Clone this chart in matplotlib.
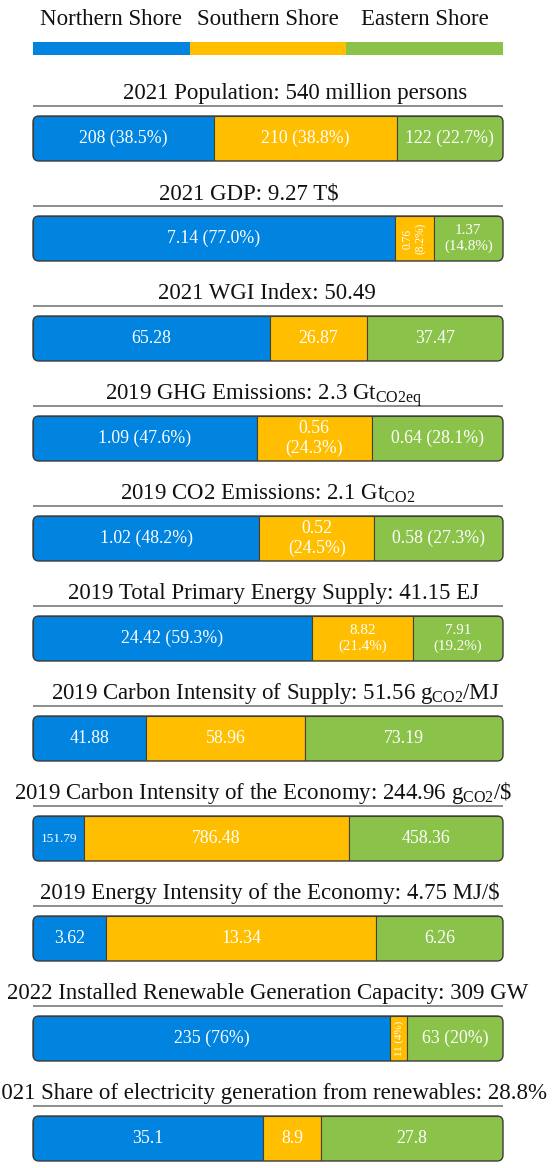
import matplotlib
matplotlib.use("Agg")
import matplotlib.pyplot as plt
from matplotlib.patches import FancyBboxPatch
from matplotlib import transforms
import numpy as np

plt.rcParams['font.family'] = ['Liberation Serif', 'DejaVu Serif']
plt.rcParams['mathtext.fontset'] = 'custom'
plt.rcParams['mathtext.rm'] = 'Liberation Serif'
plt.rcParams['mathtext.it'] = 'Liberation Serif:italic'
plt.rcParams['mathtext.bf'] = 'Liberation Serif:bold'

# ---------------- data ----------------
regions = ["Northern Shore", "Southern Shore", "Eastern Shore"]
colors = ["#0084e0", "#ffbe00", "#8bc34a"]

titles = [
    "2021 Population: 540 million persons",
    r"2021 GDP: 9.27 T\$",
    "2021 WGI Index: 50.49",
    r"2019 GHG Emissions: 2.3 Gt$_{\mathrm{CO2eq}}$",
    r"2019 CO2 Emissions: 2.1 Gt$_{\mathrm{CO2}}$",
    "2019 Total Primary Energy Supply: 41.15 EJ",
    r"2019 Carbon Intensity of Supply: 51.56 g$_{\mathrm{CO2}}$/MJ",
    r"2019 Carbon Intensity of the Economy: 244.96 g$_{\mathrm{CO2}}$/\$",
    r"2019 Energy Intensity of the Economy: 4.75 MJ/\$",
    "2022 Installed Renewable Generation Capacity: 309 GW",
    "2021 Share of electricity generation from renewables: 28.8%",
]

population = [208, 210, 122]
gdp = [7.14, 0.76, 1.37]
wgi = [65.28, 26.87, 37.47]
ghg = [1.09, 0.56, 0.64]
co2 = [1.02, 0.52, 0.58]
tpes = [24.42, 8.82, 7.91]
ci_supply = [41.88, 58.96, 73.19]
ci_economy = [151.79, 786.48, 458.36]
ei_economy = [3.62, 13.34, 6.26]
renew_cap = [235, 11, 63]
renew_share = [35.1, 8.9, 27.8]

population_lbl = ["208 (38.5%)", "210 (38.8%)", "122 (22.7%)"]
gdp_lbl = ["7.14 (77.0%)", "0.76\n(8.2%)", "1.37\n(14.8%)"]
wgi_lbl = ["65.28", "26.87", "37.47"]
ghg_lbl = ["1.09 (47.6%)", "0.56\n(24.3%)", "0.64 (28.1%)"]
co2_lbl = ["1.02 (48.2%)", "0.52\n(24.5%)", "0.58 (27.3%)"]
tpes_lbl = ["24.42 (59.3%)", "8.82\n(21.4%)", "7.91\n(19.2%)"]
ci_supply_lbl = ["41.88", "58.96", "73.19"]
ci_economy_lbl = ["151.79", "786.48", "458.36"]
ei_economy_lbl = ["3.62", "13.34", "6.26"]
renew_cap_lbl = ["235 (76%)", "11 (4%)", "63 (20%)"]
renew_share_lbl = ["35.1", "8.9", "27.8"]

panels = [
    (population, population_lbl), (gdp, gdp_lbl), (wgi, wgi_lbl),
    (ghg, ghg_lbl), (co2, co2_lbl), (tpes, tpes_lbl),
    (ci_supply, ci_supply_lbl), (ci_economy, ci_economy_lbl),
    (ei_economy, ei_economy_lbl), (renew_cap, renew_cap_lbl),
    (renew_share, renew_share_lbl),
]

# ---------------- layout (pixels) ----------------
W, H = 555, 1168
fig = plt.figure(figsize=(W / 100, H / 100), dpi=100)

X0, X1 = 33, 503
BAR_TOP0, BAR_H, STEP = 116, 45, 100
LINE_Y0 = 105.7
title_x = [295, 249, 267, 264, 268, 273, 275, 263, 270, 268, 268]
# special label styles: (panel, segment) -> (fontsize, rotation)
special = {
    (1, 1): (8.3, 90), (1, 2): (10.8, 0),
    (5, 1): (10.8, 0), (5, 2): (10.8, 0),
    (7, 0): (9.5, 0),
    (9, 1): (7.8, 90),
}
LBL_FS = 12.8
TITLE_FS = 16.5


def ax_rect(x0, y_top, w, h):
    return [x0 / W, 1 - (y_top + h) / H, w / W, h / H]


# overlay axes in pixel coordinates for titles and rules
ov = fig.add_axes([0, 0, 1, 1])
ov.set_xlim(0, W)
ov.set_ylim(H, 0)
ov.set_axis_off()

# legend
lax = fig.add_axes(ax_rect(X0, 42, X1 - X0, 13))
lax.barh([0] * len(regions), [1] * len(regions),
         left=np.arange(len(regions)), height=1, color=colors)
lax.set_xlim(0, len(regions))
lax.set_ylim(-0.5, 0.5)
lax.set_axis_off()
blend = transforms.blended_transform_factory(lax.transData, ov.transData)
for i, name in enumerate(regions):
    ov.text(i + 0.5, 25, name, transform=blend, ha='center',
            va='baseline', fontsize=16.5, color='#111111')

for p, ((vals, lbls), title) in enumerate(zip(panels, titles)):
    line_y = LINE_Y0 + STEP * p
    top = BAR_TOP0 + STEP * p
    ov.plot([X0, X1], [line_y, line_y], color='#6e6e6e', lw=1.1,
            solid_capstyle='butt')
    ov.text(title_x[p], line_y - 6.5, title, ha='center', va='baseline',
            fontsize=TITLE_FS, color='#111111')

    ax = fig.add_axes(ax_rect(X0, top, X1 - X0, BAR_H))
    total = float(np.sum(vals))
    lefts = np.concatenate([[0], np.cumsum(vals)[:-1]])
    ax.set_xlim(0, total)
    ax.set_ylim(-0.5, 0.5)
    ax.set_axis_off()
    r = 6.0 / (X1 - X0)
    patch = FancyBboxPatch((0, 0), 1, 1,
                           boxstyle=f"round,pad=0,rounding_size={r}",
                           mutation_aspect=(X1 - X0) / BAR_H,
                           transform=ax.transAxes, facecolor='none',
                           edgecolor='#3c3c3c', lw=1.0, zorder=5,
                           clip_on=False)
    ax.add_patch(patch)
    bars = ax.barh([0] * len(vals), vals, left=lefts, height=1,
                   color=colors, edgecolor='#4a4030', linewidth=0.8)
    for b in bars:
        b.set_clip_path(patch)
    for s, (v, l, lab) in enumerate(zip(vals, lefts, lbls)):
        fs, rot = special.get((p, s), (LBL_FS, 0))
        ax.text(l + v / 2, 0, lab, ha='center', va='center', fontsize=fs,
                rotation=rot, color='white', linespacing=1.15, zorder=6)

fig.savefig("out.png", dpi=100)
